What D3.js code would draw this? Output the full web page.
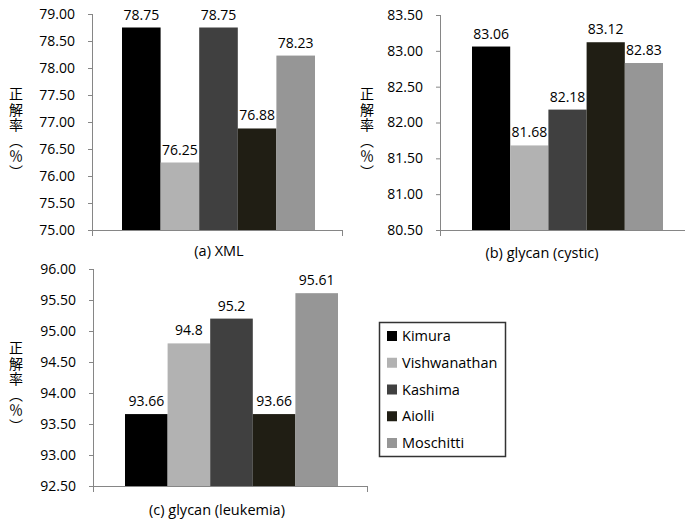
<!DOCTYPE html>
<html><head><meta charset="utf-8">
<script src="https://cdn.jsdelivr.net/npm/d3@7"></script>
<style>body{margin:0;background:#fff}svg{display:block}text{font-family:"Open Sans",sans-serif;fill:#000}</style>
</head><body>
<svg id="c" width="685" height="519"></svg>
<script>
const series = ["Kimura","Vishwanathan","Kashima","Aiolli","Moschitti"];
const colors = ["#000000","#b2b2b2","#404040","#201e14","#969696"];
const xmlValues = [78.75,76.25,78.75,76.88,78.23];
const xmlLabels = ["78.75","76.25","78.75","76.88","78.23"];
const cysticValues = [83.06,81.68,82.18,83.12,82.83];
const cysticLabels = ["83.06","81.68","82.18","83.12","82.83"];
const leukValues = [93.66,94.8,95.2,93.66,95.61];
const leukLabels = ["93.66","94.8","95.2","93.66","95.61"];
const xmlTicks = [75,75.5,76,76.5,77,77.5,78,78.5,79];
const cysticTicks = [80.5,81,81.5,82,82.5,83,83.5];
const leukTicks = [92.5,93,93.5,94,94.5,95,95.5,96];
const titles = ["(a) XML","(b) glycan (cystic)","(c) glycan (leukemia)"];
const yTitle = "正解率（％）";

const svg = d3.select("#c");

const panels = [
  {vals:xmlValues, labs:xmlLabels, ticks:xmlTicks, title:titles[0], ax:93, axEnd:343, top:14, bot:230, barL:122, barR:315, titleX:219, titleY:256, ytX:16, ytY:87},
  {vals:cysticValues, labs:cysticLabels, ticks:cysticTicks, title:titles[1], ax:441, axEnd:694, top:15, bot:230, barL:472, barR:663, titleX:542, titleY:258, ytX:367, ytY:87},
  {vals:leukValues, labs:leukLabels, ticks:leukTicks, title:titles[2], ax:94, axEnd:368, top:269, bot:486, barL:125, barR:338, titleX:217, titleY:515, ytX:16, ytY:341}
];

panels.forEach(p => {
  const g = svg.append("g");
  const y = d3.scaleLinear().domain([d3.min(p.ticks), d3.max(p.ticks)]).range([p.bot, p.top]);
  const x = d3.scaleBand().domain(series).range([p.barL, p.barR]).padding(0);
  g.selectAll("rect.bar").data(p.vals).join("rect")
    .attr("x", (d,i) => x(series[i]))
    .attr("y", d => y(d))
    .attr("width", x.bandwidth())
    .attr("height", d => y.range()[0] - y(d))
    .attr("fill", (d,i) => colors[i]);
  g.selectAll("text.val").data(p.vals).join("text")
    .attr("x", (d,i) => x(series[i]) + x.bandwidth()/2)
    .attr("y", d => y(d) - 8)
    .attr("text-anchor","middle")
    .style("font-size","14px")
    .text((d,i) => p.labs[i]);
  const yAxis = d3.axisLeft(y).tickValues(p.ticks).tickFormat(d3.format(".2f")).tickSize(5).tickPadding(13);
  const ya = g.append("g").attr("transform", `translate(${p.ax},0)`).call(yAxis);
  ya.select(".domain").attr("stroke","#868686").attr("d", `M-0.5,${p.top}V${p.bot+6}`);
  ya.selectAll(".tick line").attr("stroke","#868686");
  ya.selectAll(".tick text").style("font-size","14px").style("font-family","Open Sans").attr("fill","#000");
  g.append("line").attr("x1",p.ax).attr("x2",p.axEnd).attr("y1",p.bot+0.5).attr("y2",p.bot+0.5).attr("stroke","#868686");
  g.append("line").attr("x1",p.axEnd-0.5).attr("x2",p.axEnd-0.5).attr("y1",p.bot).attr("y2",p.bot+6).attr("stroke","#868686");
  g.append("text").attr("x",p.titleX).attr("y",p.titleY).attr("text-anchor","middle").style("font-size","14.5px").text(p.title);
  g.append("text").attr("x",p.ytX).attr("y",p.ytY)
    .attr("writing-mode","vertical-rl")
    .style("font-family","'Noto Sans CJK JP'").style("font-size","14px").style("letter-spacing","1.5px")
    .text(yTitle);
});

const lg = svg.append("g");
lg.append("rect").attr("x",379.5).attr("y",322.5).attr("width",126).attr("height",134).attr("fill","#fff").attr("stroke","#333").attr("stroke-width",1.5);
const ly = d3.scalePoint().domain(series).range([336,443]);
series.forEach((s,i) => {
  lg.append("rect").attr("x",387).attr("y",ly(s)-5).attr("width",10).attr("height",10).attr("fill",colors[i]);
  lg.append("text").attr("x",402).attr("y",ly(s)+5).style("font-size","14.5px").text(s);
});
</script>
</body></html>
